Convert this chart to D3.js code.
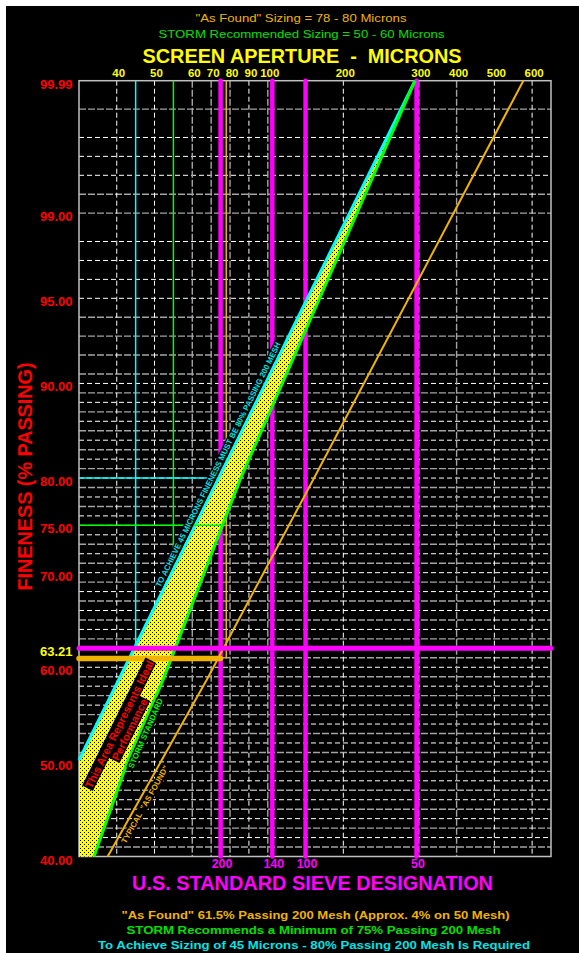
<!DOCTYPE html>
<html>
<head>
<meta charset="utf-8">
<script src="https://cdn.jsdelivr.net/npm/d3@7"></script>
<style>
body { margin: 0; background: #fff; }
text { font-family: "Liberation Sans", Arial, sans-serif; white-space: pre; }
</style>
</head>
<body>
<div id="chart"></div>
<script>
// ---- chart values ----
const micronTicks = [40, 50, 60, 70, 80, 90, 100, 200, 300, 400, 500, 600];
const finenessTicks = ["99.99", "99.00", "95.00", "90.00", "80.00", "75.00", "70.00", "63.21", "60.00", "50.00", "40.00"];
const meshLabels = [200, 140, 100, 50];
const meshMicrons = [75, 106, 150, 297];

// [microns, % passing]
const targetLine = [[30, 50.2], [295, 99.99]];                                   // 45 micron target (cyan)
const stormLine = [[34, 40], [43, 50.2], [52.3, 58.7], [85.3, 79.8], [295, 99.99]]; // STORM standard (green)
const asFoundLine = [[37.6, 40], [67.6, 58.66], [159.9, 79.8], [576.7, 99.99]];   // typical as found (orange)

const targetSize = 45, targetPassing = 80;
const stormSize = 55, stormPassing = 75;
const asFoundSize = 78, asFoundPassing = 61.5;
const characteristic = 63.21;

const C = {
    cyan: "#00ffff", green: "#00ff00", orange: "#f0b400", magenta: "#ff00ff",
    yellow: "#ffff00", red: "#ff0000", frame: "#c0c0c0"
};

const W = 579, H = 953;
const plot = {left: 79, right: 551, top: 80.7, bottom: 856.5};

// the chart uses hand-spaced grid cells, so both axes are piecewise
const xMic = d3.scaleLinear()
    .domain([30, 40, 50, 60, 70, 80, 90, 100, 200, 300, 400, 500, 600, 650])
    .range([0, 1, 2, 3, 3.5, 4, 4.5, 5, 7, 9, 10, 11, 12, 12.5]);
const yPct = d3.scaleLinear()
    .domain([99.99, 99, 95, 90, 80, 75, 70, 63.21, 60, 50, 40])
    .range([0, 7, 11.5, 16, 21, 23.5, 26, 30, 31, 36, 41]);
const px = d3.scaleLinear().domain([0, 12.5]).range([plot.left, plot.right]);
const py = d3.scaleLinear().domain([0, 41]).range([plot.top, plot.bottom]);
const x = m => px(xMic(m));
const y = p => py(yPct(p));

const svg = d3.select("#chart").append("svg").attr("width", W).attr("height", H);
svg.append("rect").attr("x", 6).attr("y", 6).attr("width", W - 6).attr("height", H - 6).attr("fill", "#000");

const defs = svg.append("defs");
const pat = defs.append("pattern").attr("id", "dots")
    .attr("width", 4).attr("height", 4).attr("patternUnits", "userSpaceOnUse");
pat.append("rect").attr("width", 4).attr("height", 4).attr("fill", C.yellow);
pat.append("rect").attr("width", 1).attr("height", 1).attr("fill", "#000");
pat.append("rect").attr("x", 2).attr("y", 2).attr("width", 1).attr("height", 1).attr("fill", "#000");

// ---- grid ----
const hGrid = [[1.5, "g"], [3, "w"], [4, "w"], [5, "w"], [6, "g"], [7, "g"], [8.5, "w"], [9.5, "w"],
    [10.5, "w"], [11.5, "w"], [12.5, "g"], [13.5, "g"], [14.5, "g"], [15.5, "g"]];
d3.range(16, 41, 0.5).forEach(v => hGrid.push([v, Number.isInteger(v) ? "w" : "g"]));
const greyV = [60, 70, 80, 100, 300, 400];
const vGrid = micronTicks.concat([150]);

const grid = svg.append("g");
const gStyle = sel => sel
    .attr("stroke", d => d.c === "w" ? "#ffffff" : "#a4a4a4")
    .attr("stroke-width", d => d.c === "w" ? 1 : 1.4)
    .attr("stroke-dasharray", d => d.c === "w" ? "5,3" : "7,2");

grid.selectAll("line.h").data(hGrid.map(d => ({v: d[0], c: d[1]}))).join("line")
    .attr("x1", plot.left).attr("x2", plot.right)
    .attr("y1", d => py(d.v)).attr("y2", d => py(d.v))
    .call(gStyle);
grid.selectAll("line.v").data(vGrid.map(m => ({v: m, c: greyV.includes(m) ? "g" : "w"}))).join("line")
    .attr("x1", d => x(d.v)).attr("x2", d => x(d.v))
    .attr("y1", plot.top).attr("y2", plot.bottom)
    .call(gStyle);

svg.append("rect")
    .attr("x", plot.left).attr("y", plot.top)
    .attr("width", plot.right - plot.left).attr("height", plot.bottom - plot.top)
    .attr("fill", "none").attr("stroke", C.frame).attr("stroke-width", 1.5);

// ---- vertical reference lines (under the band) ----
const refs = svg.append("g");
function vLine(m, pTop, pBot, color, w, cap) {
    refs.append("line")
        .attr("x1", x(m)).attr("x2", x(m)).attr("y1", y(pTop)).attr("y2", y(pBot))
        .attr("stroke", color).attr("stroke-width", w).attr("stroke-linecap", cap || "butt");
}
vLine(targetSize, 99.99, characteristic, C.cyan, 1.5);
vLine(stormSize, 99.99, characteristic, C.green, 1.5);
vLine(asFoundSize, 99.99, asFoundPassing, C.orange, 1.5);
meshMicrons.forEach(m => vLine(m, 99.99, 40, C.magenta, 4.5, "round"));

// ---- ideal band ----
const line = d3.line().x(d => x(d[0])).y(d => y(d[1]));
const band = targetLine.concat(stormLine.slice().reverse(), [[xMic.domain()[0], 40]]);
svg.append("path").attr("d", line(band) + "Z").attr("fill", "url(#dots)");
svg.append("path").attr("d", line(targetLine)).attr("fill", "none").attr("stroke", C.cyan).attr("stroke-width", 3);
svg.append("path").attr("d", line(stormLine)).attr("fill", "none").attr("stroke", C.green).attr("stroke-width", 3);
svg.append("path").attr("d", line(asFoundLine)).attr("fill", "none").attr("stroke", C.orange).attr("stroke-width", 2);

// x of a polyline at a given % passing
function xAtPct(data, pct) {
    const pts = data.map(d => [x(d[0]), y(d[1])]);
    const yy = y(pct);
    for (let i = 0; i < pts.length - 1; i++) {
        const [x0, y0] = pts[i], [x1, y1] = pts[i + 1];
        if ((yy - y0) * (yy - y1) <= 0) return x0 + (yy - y0) / (y1 - y0) * (x1 - x0);
    }
    return px(0);
}
function hLine(p, x1, x2, color, w, cap) {
    svg.append("line").attr("x1", x1).attr("x2", x2).attr("y1", y(p)).attr("y2", y(p))
        .attr("stroke", color).attr("stroke-width", w).attr("stroke-linecap", cap || "butt");
}
hLine(targetPassing, px(0), xAtPct(targetLine, targetPassing), C.cyan, 1.5);
hLine(stormPassing, px(0), xAtPct(stormLine, stormPassing), C.green, 1.5);
hLine(characteristic, px(0), px(12.5), C.magenta, 5, "round");
hLine(asFoundPassing, px(0), x(meshMicrons[0]), C.orange, 5.5, "round");

// ---- rotated labels with black boxes ----
const annot = svg.append("g");
function angleOf(a, b) {
    return Math.atan2(y(b[1]) - y(a[1]), x(b[0]) - x(a[0])) * 180 / Math.PI;
}
function boxedLabel(m, p, angle, str, o) {
    const g = annot.append("g").attr("transform", `translate(${x(m)},${y(p)}) rotate(${angle})`);
    const t = g.append("text").attr("x", 0).attr("y", o.dy || 0)
        .attr("text-anchor", "middle").attr("dominant-baseline", "central")
        .attr("font-size", o.size).attr("font-weight", "bold").attr("fill", o.color).text(str);
    if (o.len) t.attr("textLength", o.len).attr("lengthAdjust", "spacingAndGlyphs");
    const b = t.node().getBBox();
    g.insert("rect", "text").attr("x", b.x - 1).attr("y", b.y).attr("width", b.width + 2).attr("height", b.height).attr("fill", "#000");
}
const cyanAngle = angleOf(targetLine[0], targetLine[1]);
boxedLabel(73.8, 81.4, cyanAngle, "TO ACHIEVE 45 MICRONS FINENESS MUST BE 80% PASSING 200 MESH",
    {size: 8, color: "#00e5e5", len: 272});
boxedLabel(47.7, 53.0, angleOf(stormLine[1], stormLine[2]), "STORM STANDARD", {size: 8, color: C.green});
boxedLabel(47.5, 45.5, angleOf(asFoundLine[0], asFoundLine[1]), "TYPICAL  \"AS FOUND\"", {size: 8, color: C.orange});
boxedLabel(40.64, 53.98, cyanAngle, "This Area Represents Ideal", {size: 11, color: C.red});
boxedLabel(40.64, 53.98, cyanAngle, "Performance", {size: 11, color: C.red, dy: 11.5});

// ---- axes labels ----
svg.append("g").selectAll("text").data(micronTicks).join("text")
    .attr("x", d => x(d) + 2).attr("y", 77)
    .attr("text-anchor", "middle").attr("font-size", 11.5).attr("font-weight", "bold")
    .attr("fill", C.yellow).text(d => d);

svg.append("g").selectAll("text").data(finenessTicks).join("text")
    .attr("x", 72.5).attr("y", d => y(+d) + 8)
    .attr("text-anchor", "end").attr("font-size", 13).attr("font-weight", "bold")
    .attr("fill", d => d === "63.21" ? C.yellow : C.red).text(d => d);

svg.append("g").selectAll("text").data(meshLabels).join("text")
    .attr("x", (d, i) => x(meshMicrons[i]) + 1.5).attr("y", 868)
    .attr("text-anchor", "middle").attr("font-size", 12.5).attr("font-weight", "bold")
    .attr("fill", C.magenta).text(d => d);

// ---- titles & notes ----
function label(tx, ty, str, size, color, weight, len) {
    const t = svg.append("text").attr("x", tx).attr("y", ty).attr("text-anchor", "middle")
        .attr("font-size", size).attr("font-weight", weight).attr("fill", color).text(str);
    if (len) t.attr("textLength", len).attr("lengthAdjust", "spacingAndGlyphs");
    return t;
}
label(301, 22, "\"As Found\" Sizing = 78 - 80 Microns", 11.5, C.orange, "normal", 211);
label(301.5, 38, "STORM Recommended Sizing = 50 - 60 Microns", 11.5, "#00e000", "normal", 286);
label(302, 63, "SCREEN APERTURE  -  MICRONS", 19.5, C.yellow, "bold", 319);
label(312.5, 890, "U.S. STANDARD SIEVE DESIGNATION", 19.5, C.magenta, "bold", 361);
label(315.5, 918.5, "\"As Found\" 61.5% Passing 200 Mesh (Approx. 4% on 50 Mesh)", 11.5, C.orange, "bold", 388);
label(313.5, 934, "STORM Recommends a Minimum of 75% Passing 200 Mesh", 11.5, "#00e000", "bold", 374);
label(314, 949, "To Achieve Sizing of 45 Microns - 80% Passing 200 Mesh Is Required", 11.5, "#00e5e5", "bold", 432);

svg.append("text")
    .attr("transform", "translate(31.5,476.5) rotate(-90)")
    .attr("text-anchor", "middle").attr("font-size", 20).attr("font-weight", "bold")
    .attr("fill", C.red).attr("textLength", 228).attr("lengthAdjust", "spacingAndGlyphs")
    .text("FINENESS (% PASSING)");
</script>
</body>
</html>
